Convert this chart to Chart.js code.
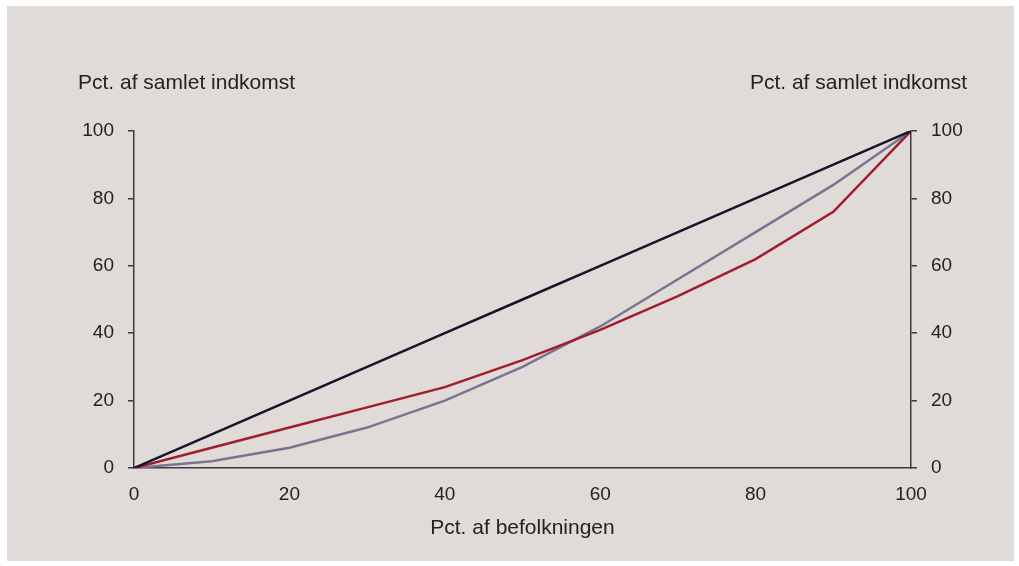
<!DOCTYPE html>
<html>
<head>
<meta charset="utf-8">
<script src="https://cdn.jsdelivr.net/npm/chart.js@4"></script>
<style>
  body { margin: 0; background: #ffffff; }
  #wrap { position: absolute; left: 7px; top: 6px; width: 1007px; height: 555px; background: #e0dad9; }
</style>
</head>
<body>
<div id="wrap"><canvas id="lorenz"></canvas></div>
<script>
// Lorenz curves

// population share (x) and income share (y)
var popShare = [0, 10, 20, 30, 40, 50, 60, 70, 80, 90, 100];
var equality = [0, 10, 20, 30, 40, 50, 60, 70, 80, 90, 100];
var redCurve = [0, 6, 12, 18, 24, 32, 41, 51, 62, 76, 100];
var grayCurve = [0, 2, 6, 12, 20, 30, 42, 56, 70, 84, 100];

var yTitle = 'Pct. af samlet indkomst';
var xTitle = 'Pct. af befolkningen';

var axisColor = '#3a3a3a';
var textColor = '#222222';
var fontFamily = '"Liberation Sans", Arial, sans-serif';

function toPoints(xs, ys) {
    return xs.map(function (x, i) { return { x: x, y: ys[i] }; });
}

// fixed box sizes so the plot area lands where it does in the original
function fixBox(w, h) {
    return function (scale) {
        if (w != null) scale.width = w;
        if (h != null) scale.height = h;
        scale.paddingLeft = 0;
        scale.paddingRight = 0;
        scale.paddingTop = 0;
        scale.paddingBottom = 0;
    };
}

var titlesPlugin = {
    id: 'titles',
    afterDraw: function (chart) {
        var c = chart.ctx;
        var a = chart.chartArea;
        c.save();
        c.fillStyle = textColor;
        c.font = '21px ' + fontFamily;
        c.textBaseline = 'middle';
        c.textAlign = 'left';
        c.fillText(yTitle, 71, 77);
        c.textAlign = 'right';
        c.fillText(yTitle, 960, 77);
        c.textAlign = 'center';
        c.fillText(xTitle, (a.left + a.right) / 2, 522);
        c.restore();
    }
};

Chart.defaults.font.family = fontFamily;
Chart.defaults.font.size = 19;
Chart.defaults.color = textColor;

var ctx = document.getElementById('lorenz');

var myChart = new Chart(ctx, {
    type: 'line',
    data: {
        datasets: [
        {
            label: 'Lige fordeling',
            data: toPoints(popShare, equality),
            borderColor: '#14142a',
            borderWidth: 2.5,
            pointRadius: 0,
            tension: 0
        },
        {
            label: 'Rød',
            data: toPoints(popShare, redCurve),
            borderColor: '#a11d2e',
            borderWidth: 2.5,
            pointRadius: 0,
            tension: 0
        },
        {
            label: 'Grå',
            data: toPoints(popShare, grayCurve),
            borderColor: '#77758f',
            borderWidth: 2.5,
            pointRadius: 0,
            tension: 0
        }]
    },
    options: {
        responsive: true,
        maintainAspectRatio: false,
        animation: false,
        layout: { padding: { top: 125, left: 0, right: 0, bottom: 0 } },
        plugins: {
            legend: { display: false },
            tooltip: { enabled: false }
        },
        scales: {
            x: {
                type: 'linear',
                min: 0,
                max: 100,
                ticks: { stepSize: 20, padding: 15, maxRotation: 0 },
                grid: { drawOnChartArea: false, drawTicks: false },
                border: { display: true, color: axisColor, width: 1.5 },
                afterFit: fixBox(null, 93)
            },
            y: {
                position: 'left',
                min: 0,
                max: 100,
                ticks: { stepSize: 20, padding: 14 },
                grid: { drawOnChartArea: false, drawTicks: true, tickLength: 6, color: axisColor, lineWidth: 1.5 },
                border: { display: true, color: axisColor, width: 1.5 },
                afterFit: fixBox(127, null)
            },
            y2: {
                position: 'right',
                min: 0,
                max: 100,
                ticks: { stepSize: 20, padding: 14 },
                grid: { drawOnChartArea: false, drawTicks: true, tickLength: 6, color: axisColor, lineWidth: 1.5 },
                border: { display: true, color: axisColor, width: 1.5 },
                afterFit: fixBox(103, null)
            }
        }
    },
    plugins: [titlesPlugin]
});
</script>
</body>
</html>
